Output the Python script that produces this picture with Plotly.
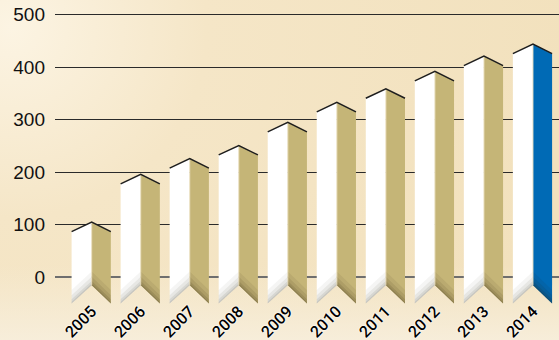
import base64
import plotly.graph_objects as go

# ---- data ----
years = ["2005", "2006", "2007", "2008", "2009", "2010", "2011", "2012", "2013", "2014"]
values = [105, 196, 226, 251, 295, 333, 359, 392, 421, 444]
y_ticks = [0, 100, 200, 300, 400, 500]
side_colors = ["#C5B577"] * 9 + ["#006AB5"]

# ---- geometry (data units) ----
wl, wr = 0.41, 0.39        # half widths of front (white) / side face
roof = 18                  # drop from ridge to eaves
b_center, b_edge = -15, -50

W, H = 559, 340
ml, mr, mt, mb = 55, 0, 0, 34
px_per_unit = 0.5252
zero_px = 277.3
y_top = zero_px / px_per_unit
y_bot = y_top - (H - mt - mb) / px_per_unit
x_unit = 49.03
x0 = (ml - 91.7) / x_unit
x1 = (W - 91.7) / x_unit

def polys(fn):
    xs, ys = [], []
    for i, v in enumerate(values):
        px, py = fn(i, v)
        xs += px + [px[0], None]
        ys += py + [py[0], None]
    return xs, ys

fig = go.Figure()

# front faces
fx, fy = polys(lambda i, v: ([i - wl, i, i, i - wl], [v - roof, v, b_center, b_edge]))
fig.add_trace(go.Scatter(x=fx, y=fy, fill="toself", fillcolor="#FFFFFF", mode="lines",
                         line=dict(width=0), hoverinfo="skip", showlegend=False))

# side faces (per colour)
for col in sorted(set(side_colors)):
    xs, ys = [], []
    for i, v in enumerate(values):
        if side_colors[i] != col:
            continue
        px = [i, i + wr, i + wr, i]
        py = [v, v - roof, b_edge, b_center]
        xs += px + [px[0], None]
        ys += py + [py[0], None]
    fig.add_trace(go.Scatter(x=xs, y=ys, fill="toself", fillcolor=col, mode="lines",
                             line=dict(width=0), hoverinfo="skip", showlegend=False))

# bottom shading bands
for s, a in [(26, 0.05), (16, 0.07), (8, 0.09), (3, 0.10)]:
    sx, sy = polys(lambda i, v: ([i - wl, i, i, i - wl], [b_edge, b_center, b_center + s, b_edge + s]))
    fig.add_trace(go.Scatter(x=sx, y=sy, fill="toself", fillcolor=f"rgba(60,50,30,{a})", mode="lines",
                             line=dict(width=0), hoverinfo="skip", showlegend=False))
    tx, ty = polys(lambda i, v: ([i, i + wr, i + wr, i], [b_center, b_edge, b_edge + s, b_center + s]))
    fig.add_trace(go.Scatter(x=tx, y=ty, fill="toself", fillcolor=f"rgba(40,30,10,{a * 1.3})", mode="lines",
                             line=dict(width=0), hoverinfo="skip", showlegend=False))

# fold line
lx, ly = [], []
for i, v in enumerate(values):
    lx += [i, i, None]
    ly += [v, b_center, None]
fig.add_trace(go.Scatter(x=lx, y=ly, mode="lines", line=dict(color="rgba(235,225,195,0.9)", width=1),
                         hoverinfo="skip", showlegend=False))

# roof outlines
rx, ry = [], []
for i, v in enumerate(values):
    rx += [i - wl, i, i + wr, None]
    ry += [v - roof, v, v - roof, None]
fig.add_trace(go.Scatter(x=rx, y=ry, mode="lines", line=dict(color="#1E1E1E", width=1.5),
                         hoverinfo="skip", showlegend=False))

# background gradient
svg = f"""<svg xmlns='http://www.w3.org/2000/svg' width='{W}' height='{H}' viewBox='0 0 {W} {H}' preserveAspectRatio='none'>
<defs>
<radialGradient id='g' cx='0.02' cy='0.05' r='1.0' gradientTransform='scale(1,1.6)'>
<stop offset='0' stop-color='#FCF4E3'/>
<stop offset='0.35' stop-color='#F5E6C7'/>
<stop offset='1' stop-color='#F2E1BD'/>
</radialGradient>
<linearGradient id='b' x1='0' y1='0' x2='0' y2='1'>
<stop offset='0.78' stop-color='#F7EEDB' stop-opacity='0'/>
<stop offset='1' stop-color='#F7EEDB' stop-opacity='0.95'/>
</linearGradient>
</defs>
<rect width='{W}' height='{H}' fill='url(#g)'/>
<rect width='{W}' height='{H}' fill='url(#b)'/>
</svg>"""
src = "data:image/svg+xml;base64," + base64.b64encode(svg.encode()).decode()
pw, ph = W - ml - mr, H - mt - mb
fig.add_layout_image(dict(source=src, xref="paper", yref="paper", x=-ml / pw, y=1 + mt / ph,
                          sizex=W / pw, sizey=H / ph, sizing="stretch", xanchor="left",
                          yanchor="top", layer="below"))

fig.update_layout(
    width=W, height=H,
    margin=dict(l=ml, r=mr, t=mt, b=mb, autoexpand=False),
    paper_bgcolor="#F4E5C3",
    plot_bgcolor="rgba(0,0,0,0)",
    showlegend=False,
    xaxis=dict(range=[x0, x1], showgrid=False, zeroline=False, showline=False, automargin=False,
               tickmode="array", tickvals=list(range(len(years))), ticktext=years,
               tickangle=-45, ticks="", ticklabelstandoff=-8,
               tickfont=dict(family="Roboto", size=16, color="#000",
                             weight=500, shadow="0 0 2px #fff, 0 0 2px #fff")),
    yaxis=dict(range=[y_bot, y_top], tickmode="array", tickvals=y_ticks, automargin=False,
               showgrid=True, gridcolor="#2A2A2A", gridwidth=1.3,
               zeroline=True, zerolinecolor="#6E6E6E", zerolinewidth=1.5,
               showline=False, ticks="", ticklabelstandoff=9,
               tickfont=dict(family="Liberation Sans", size=19, color="#111")),
)

fig.write_html("out.html")
